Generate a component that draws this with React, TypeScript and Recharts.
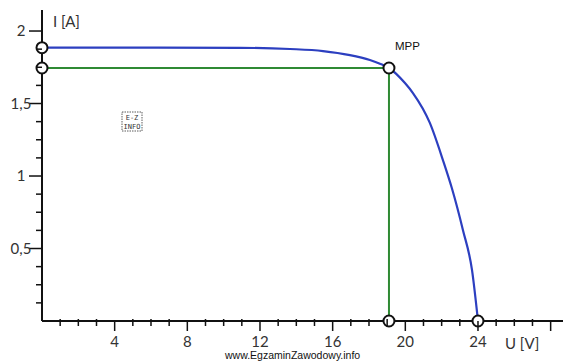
import React from 'react';
import { LineChart, Line, XAxis, YAxis, ReferenceDot } from 'recharts';

// I-U characteristic of a PV module
const voltage = [0, 6, 10.9, 13.65, 15.47, 16.95, 18.05, 18.6, 19.1, 19.98, 20.42, 21.35, 22.07, 22.56, 23.17, 23.67, 24.0];
const current = [1.885, 1.885, 1.884, 1.876, 1.862, 1.834, 1.8, 1.775, 1.745, 1.641, 1.572, 1.366, 1.11, 0.917, 0.628, 0.352, 0];

const mppVoltage = 19.1;
const mppCurrent = 1.745;
const iscCurrent = 1.885;
const vocVoltage = 24.0;

const xTickValues = [1, 2, 3, 4, 5, 6, 7, 8, 9, 10, 11, 12, 13, 14, 15, 16, 17, 18, 19, 20, 21, 22, 23, 24, 25, 26, 27, 28];
const xLabelValues = [4, 8, 12, 16, 20, 24];
const yTickValues = [0.125, 0.25, 0.375, 0.5, 0.625, 0.75, 0.875, 1, 1.125, 1.25, 1.375, 1.5, 1.625, 1.75, 1.875, 2];
const yLabelValues = [0.5, 1, 1.5, 2];
const yLabelTexts = ['0,5', '1', '1,5', '2'];

const curveData = voltage.map((u, k) => ({ u, i: current[k] }));
const mppData = [
  { u: 0, i: mppCurrent },
  { u: mppVoltage, i: mppCurrent },
  { u: mppVoltage, i: 0 },
];

const FONT = 'Lato, "Open Sans", sans-serif';
const INK = '#111';

const XTick = (props: any) => {
  const { x, y, payload } = props;
  const v = payload.value;
  const major = v % 4 === 0;
  return (
    <g>
      <line x1={x} x2={x} y1={major ? y : y - 2} y2={major ? y + 10 : y + 5} stroke={INK} strokeWidth={1.5} />
      {xLabelValues.includes(v) && (
        <text x={x} y={y + 26} textAnchor="middle" fontFamily={FONT} fontSize={15} fill="#333">
          {v}
        </text>
      )}
    </g>
  );
};

const YTick = (props: any) => {
  const { x, y, payload } = props;
  const v = payload.value;
  const idx = yLabelValues.indexOf(v);
  const major = idx >= 0;
  return (
    <g>
      <line x1={major ? x - 13 : x - 6} x2={x} y1={y} y2={y} stroke={INK} strokeWidth={1.5} />
      {major && (
        <text x={x - 21} y={y + 5} textAnchor="middle" fontFamily={FONT} fontSize={15} fill="#333">
          {yLabelTexts[idx]}
        </text>
      )}
    </g>
  );
};

const dotStyle = { r: 5.5, fill: '#fff', stroke: INK, strokeWidth: 2, ifOverflow: 'visible' as const };

export default function App() {
  return (
    <div style={{ position: 'absolute', left: 0, top: 0, width: 574, height: 361, background: '#fff' }}>
      <LineChart width={574} height={361} margin={{ top: 10, right: 11, bottom: 0, left: 0 }}>
        <XAxis
          dataKey="u"
          type="number"
          domain={[0, 28.68]}
          ticks={xTickValues}
          tick={<XTick />}
          tickLine={false}
          tickSize={0}
          tickMargin={0}
          height={40}
          axisLine={{ stroke: INK, strokeWidth: 2 }}
          allowDataOverflow
          interval={0}
        />
        <YAxis
          dataKey="i"
          type="number"
          domain={[0, 2.145]}
          ticks={yTickValues}
          tick={<YTick />}
          tickLine={false}
          tickSize={0}
          tickMargin={0}
          width={42}
          axisLine={{ stroke: INK, strokeWidth: 2 }}
          allowDataOverflow
          interval={0}
        />
        <Line
          data={mppData}
          dataKey="i"
          type="linear"
          stroke="#2f8a34"
          strokeWidth={2}
          dot={false}
          activeDot={false}
          isAnimationActive={false}
        />
        <Line
          data={curveData}
          dataKey="i"
          type="monotone"
          stroke="#2c3fc0"
          strokeWidth={2.2}
          dot={false}
          activeDot={false}
          isAnimationActive={false}
        />
        <ReferenceDot x={0} y={iscCurrent} {...dotStyle} />
        <ReferenceDot x={0} y={mppCurrent} {...dotStyle} />
        <ReferenceDot x={mppVoltage} y={mppCurrent} {...dotStyle} />
        <ReferenceDot x={mppVoltage} y={0} {...dotStyle} />
        <ReferenceDot x={vocVoltage} y={0} {...dotStyle} />
        <text x={53} y={27} fontFamily={FONT} fontSize={15} fill="#333">I [A]</text>
        <text x={505} y={349} fontFamily={FONT} fontSize={15} fill="#333">U [V]</text>
        <text x={395} y={50} fontFamily='"Liberation Sans", Arial, sans-serif' fontSize={11.5} fill="#111">MPP</text>
        <text x={225} y={359} fontFamily='"Liberation Sans", Arial, sans-serif' fontSize={10.5} fill="#111">www.EgzaminZawodowy.info</text>
        <g>
          <rect x={122} y={112} width={20} height={19} fill="none" stroke="#333" strokeWidth={0.8} strokeDasharray="1.5 1" />
          <text x={132} y={120} textAnchor="middle" fontFamily='"DejaVu Sans Mono", monospace' fontSize={7} fill="#333">E-Z</text>
          <text x={132} y={129} textAnchor="middle" fontFamily='"DejaVu Sans Mono", monospace' fontSize={7} fill="#333">INFO</text>
        </g>
      </LineChart>
    </div>
  );
}
